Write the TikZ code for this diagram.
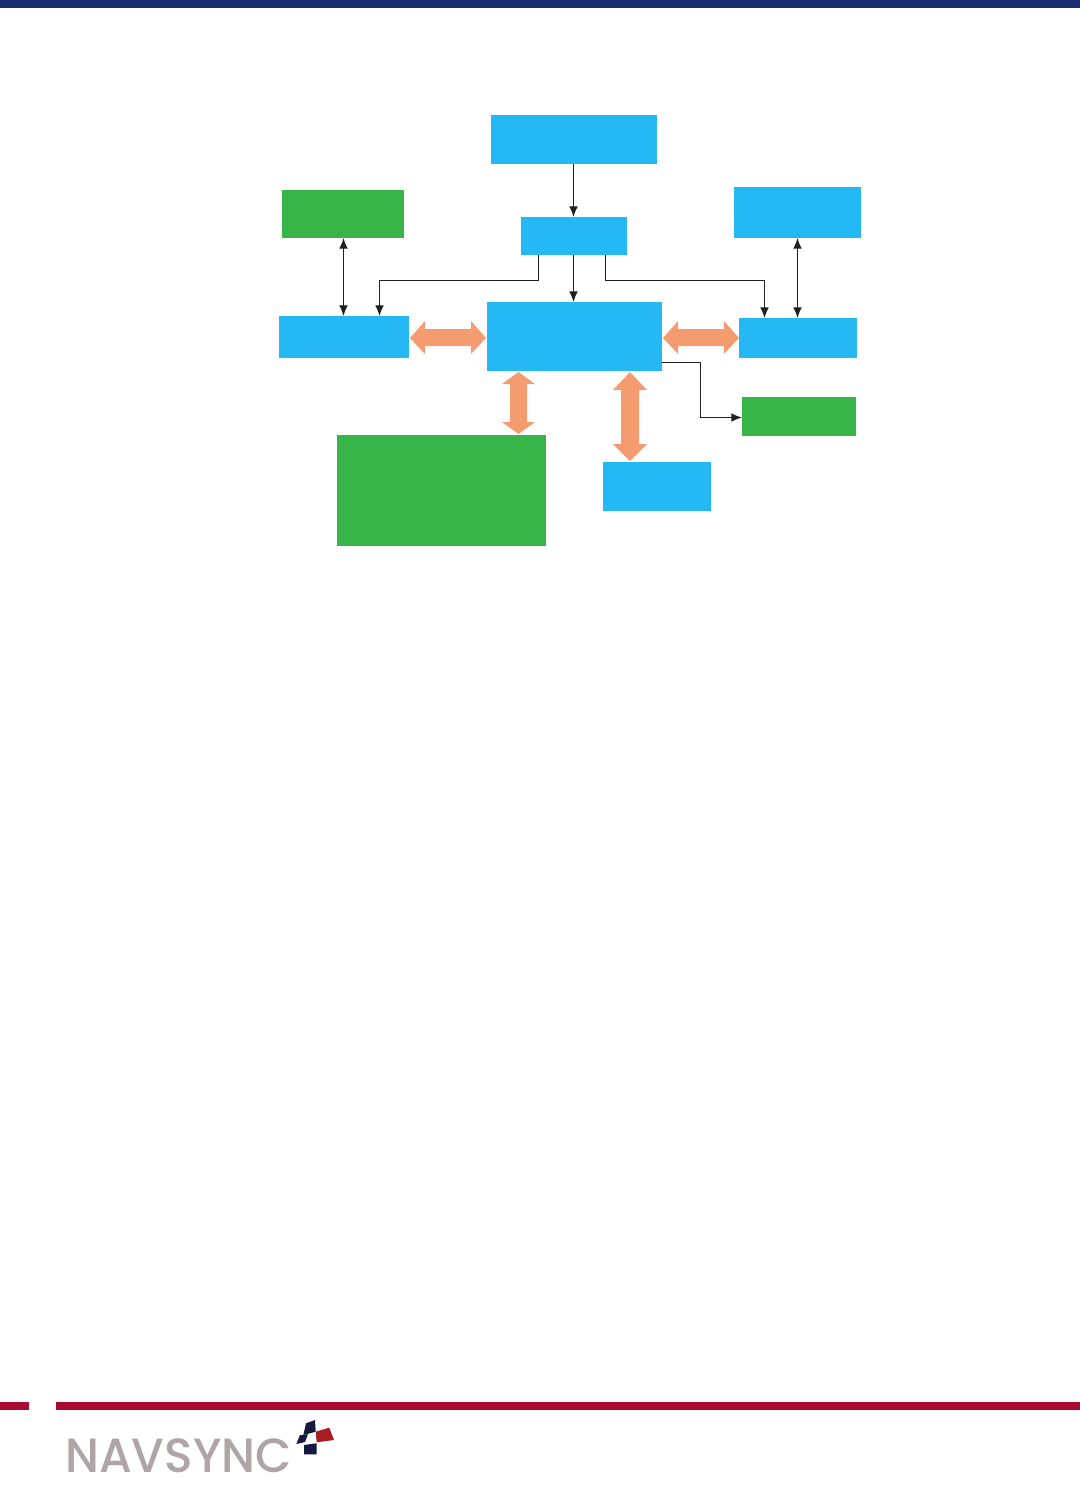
\documentclass[tikz,border=0pt]{standalone}
\usepackage{fontspec}
\setmainfont{Poppins}
\newfontfamily\logofont{Poppins Medium}
\usetikzlibrary{arrows.meta,calc}
\definecolor{boxblue}{HTML}{24B8F4}
\definecolor{boxgreen}{HTML}{38B548}
\definecolor{blockorange}{HTML}{F49C70}
\definecolor{barred}{HTML}{A90C32}
\definecolor{barnavy}{HTML}{1C2D6F}
\definecolor{logogrey}{HTML}{AFA5A6}
\definecolor{logonavy}{HTML}{15183F}
\definecolor{logored}{HTML}{AA1C24}
\definecolor{wire}{HTML}{231F20}
\tikzset{
  x=0.75pt,y=-0.75pt,
  blk/.style={inner sep=0,outer sep=0,anchor=north west},
  bluebox/.style={blk,fill=boxblue},
  greenbox/.style={blk,fill=boxgreen},
  wireline/.style={draw=wire,line width=0.8pt,-{Latex[length=8pt,width=6.5pt]}},
  wiretwo/.style={draw=wire,line width=0.8pt,{Latex[length=8pt,width=6.5pt]}-{Latex[length=8pt,width=6.5pt]}},
}
% \sizedbox{name}{style}{x0}{y0}{x1}{y1}
\newcommand{\sizedbox}[6]{%
  \pgfmathsetmacro{\bw}{(#5-#3)*0.75}\pgfmathsetmacro{\bh}{(#6-#4)*0.75}%
  \node[#2,minimum width=\bw pt,minimum height=\bh pt] (#1) at (#3,#4) {};}
\begin{document}
\begin{tikzpicture}
\useasboundingbox (0,0) rectangle (1080,1490);
\fill[white] (0,0) rectangle (1080,1490);
\fill[barnavy] (0,0) rectangle (1080,8);
\fill[barred] (0,1402) rectangle (29,1410);
\fill[barred] (56,1402) rectangle (1080,1410);

\sizedbox{top}{bluebox}{491}{115}{657}{164}
\sizedbox{clk}{bluebox}{521}{217}{627}{255}
\sizedbox{gtl}{greenbox}{282}{190}{404}{238}
\sizedbox{btr}{bluebox}{734}{187}{861}{238}
\sizedbox{lft}{bluebox}{279}{316}{409}{358}
\sizedbox{ctr}{bluebox}{487}{302}{662}{371}
\sizedbox{rgt}{bluebox}{739}{318}{857}{358}
\sizedbox{gsm}{greenbox}{742}{397}{856}{436}
\sizedbox{gbg}{greenbox}{337}{435}{546}{546}
\sizedbox{bbt}{bluebox}{603}{462}{711}{511}

% thin connectors
\draw[wireline] (573.5,164 |- top.south) -- (573.5,0 |- clk.north);
\draw[wireline] (573.5,0 |- clk.south) -- (573.5,0 |- ctr.north);
\draw[wireline] (538.5,0 |- clk.south) -- (538.5,280.5) -- (379.5,280.5) -- (379.5,0 |- lft.north);
\draw[wireline] (605.5,0 |- clk.south) -- (605.5,280.5) -- (764.5,280.5) -- (764.5,0 |- rgt.north);
\draw[wiretwo] (343.5,0 |- gtl.south) -- (343.5,0 |- lft.north);
\draw[wiretwo] (797.5,0 |- btr.south) -- (797.5,0 |- rgt.north);
\draw[wireline] (ctr.east |- 0,362.5) -- (700.5,362.5) -- (700.5,417.5) -- (gsm.west |- 0,417.5);

% block arrows
\fill[blockorange] (410,338) -- (425,321) -- (425,329) -- (471,329) -- (471,321) -- (486,338) -- (471,354) -- (471,346) -- (425,346) -- (425,354) -- cycle;
\fill[blockorange] (663,338) -- (678,321) -- (678,329) -- (724,329) -- (724,321) -- (739,338) -- (724,354) -- (724,346) -- (678,346) -- (678,354) -- cycle;
\fill[blockorange] (518.5,372) -- (535,384) -- (527,384) -- (527,422) -- (535,422) -- (518.5,434) -- (502,422) -- (510,422) -- (510,384) -- (502,384) -- cycle;
\fill[blockorange] (630,372) -- (647,390) -- (639,390) -- (639,444) -- (647,444) -- (630,461) -- (613,444) -- (621,444) -- (621,390) -- (613,390) -- cycle;

% logo
\node[inner sep=0,anchor=west,text=logogrey,xscale=0.98,font=\logofont\fontsize{36}{36}\selectfont] (logo) at (65,1456) {NAVSYNC};
\fill[logonavy] (306,1423.3) -- (315,1420) -- (315.7,1431.7) -- (303.3,1435) -- cycle;
\fill[logonavy] (300,1435) -- (303.3,1435) -- (308,1434) -- (305,1442) -- (296.3,1444) -- cycle;
\fill[logonavy] (304,1445) -- (316.7,1443.3) -- (316.7,1454.3) -- (304,1454.3) -- cycle;
\fill[logored] (315.7,1431.7) -- (329.3,1427.7) -- (334,1440) -- (316.7,1442.3) -- cycle;
\end{tikzpicture}
\end{document}
